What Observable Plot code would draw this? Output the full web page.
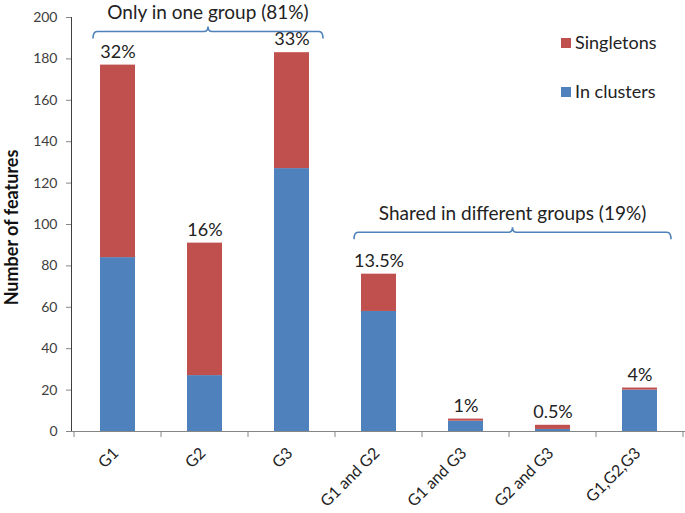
<!DOCTYPE html>
<html><head><meta charset="utf-8">
<script src="https://cdn.jsdelivr.net/npm/d3@7"></script>
<script src="https://cdn.jsdelivr.net/npm/@observablehq/plot@0.6"></script>
<style>
body{margin:0;background:#fff;}
#chart svg{font-family:Lato, sans-serif;}
#chart g[aria-label^="y-axis"] text{font-size:14px;fill:#404040;}
#chart g[aria-label^="y-axis"] line,#chart g[aria-label^="y-axis"] path{stroke:#868686;}
</style></head><body><div id="chart"></div>
<script>
const categories = ["G1","G2","G3","G1 and G2","G1 and G3","G2 and G3","G1,G2,G3"];
const inClusters = [84,27,127,58,5,1,20];
const singletons = [93,64,56,18,1,2,1];
const percentLabels = ["32%","16%","33%","13.5%","1%","0.5%","4%"];
const seriesNames = ["Singletons","In clusters"];
const seriesColors = ["#C0504D","#4F81BD"];
const yTicks = [0,20,40,60,80,100,120,140,160,180,200];
const yLabel = "Number of features";
const bracketLabels = ["Only in one group (81%)","Shared in different groups (19%)"];
const bracketFrom = ["G1","G1 and G2"];
const bracketTo = ["G3","G1,G2,G3"];
const bracketLevel = [193,96];

const rows = [];
categories.forEach((c,i)=>{
  rows.push({category:c, series:"In clusters", value:inClusters[i]});
  rows.push({category:c, series:"Singletons", value:singletons[i]});
});
const totals = categories.map((c,i)=>({category:c,total:inClusters[i]+singletons[i],label:percentLabels[i]}));

function overlay(index, scales) {
  const x = scales.x, y = scales.y;
  const g = d3.create("svg:g");
  const step = x.step(), bw = x.bandwidth();
  const y0 = y(0);
  const bounds = categories.map(c => x(c) + bw/2 - step/2).concat([x(categories[categories.length-1]) + bw/2 + step/2]);
  g.selectAll("line.xt").data(bounds).join("line")
    .attr("x1",d=>d).attr("x2",d=>d).attr("y1",y0).attr("y2",y0+6)
    .attr("stroke","#868686");
  bracketLabels.forEach((lab,i)=>{
    const x1 = x(bracketFrom[i]) - 7, x2 = x(bracketTo[i]) + bw + 14, yy = y(bracketLevel[i]), cx = (x1+x2)/2;
    const r = 4;
    g.append("path")
      .attr("d",`M${x1},${yy+7} Q${x1},${yy} ${x1+r},${yy} L${cx-r},${yy} Q${cx},${yy} ${cx},${yy-5} Q${cx},${yy} ${cx+r},${yy} L${x2-r},${yy} Q${x2},${yy} ${x2},${yy+7}`)
      .attr("fill","none").attr("stroke","#4F81BD").attr("stroke-width",1.6);
    g.append("text").attr("x",cx).attr("y",yy-19).attr("dy","0.35em")
      .attr("text-anchor","middle").attr("font-size",19).attr("fill","#222").text(lab);
  });
  seriesNames.forEach((s,i)=>{
    const top = 38 + i*49;
    g.append("rect").attr("x",561).attr("y",top).attr("width",10).attr("height",10).attr("fill",seriesColors[i]);
    g.append("text").attr("x",575).attr("y",top+5).attr("dy","0.35em")
      .attr("text-anchor","start").attr("font-size",18).attr("fill","#222").text(s);
  });
  return g.node();
}

const chart = Plot.plot({
  width: 685, height: 513,
  marginLeft: 71, marginRight: 0, marginTop: 17, marginBottom: 82,
  style: {fontFamily: "Lato, sans-serif", fontSize: "14px", color: "#404040", background: "#fff"},
  x: {domain: categories, axis: null, paddingInner: 0.6, paddingOuter: 0.3},
  y: {domain: [0,200], ticks: yTicks, tickSize: 5, tickPadding: 9, line: true, label: null},
  color: {domain: seriesNames, range: seriesColors},
  marks: [
    Plot.barY(rows, {x:"category", y:"value", fill:"series"}),
    Plot.ruleY([0], {stroke:"#868686"}),
    Plot.text(totals, {x:"category", y:"total", text:"label", dy:-13, fontSize:18, fill:"#222"}),
    Plot.text(categories, {x:d=>d, y:()=>0, text:d=>d, rotate:-45, textAnchor:"end", dx:-2, dy:19, fontSize:16, fill:"#222"}),
    Plot.text([yLabel], {frameAnchor:"left", text:d=>d, rotate:-90, textAnchor:"middle", dx:-59, dy:3, fontSize:18, fontWeight:"bold", fill:"#111"}),
    overlay
  ]
});
document.getElementById("chart").appendChild(chart);
</script></body></html>
